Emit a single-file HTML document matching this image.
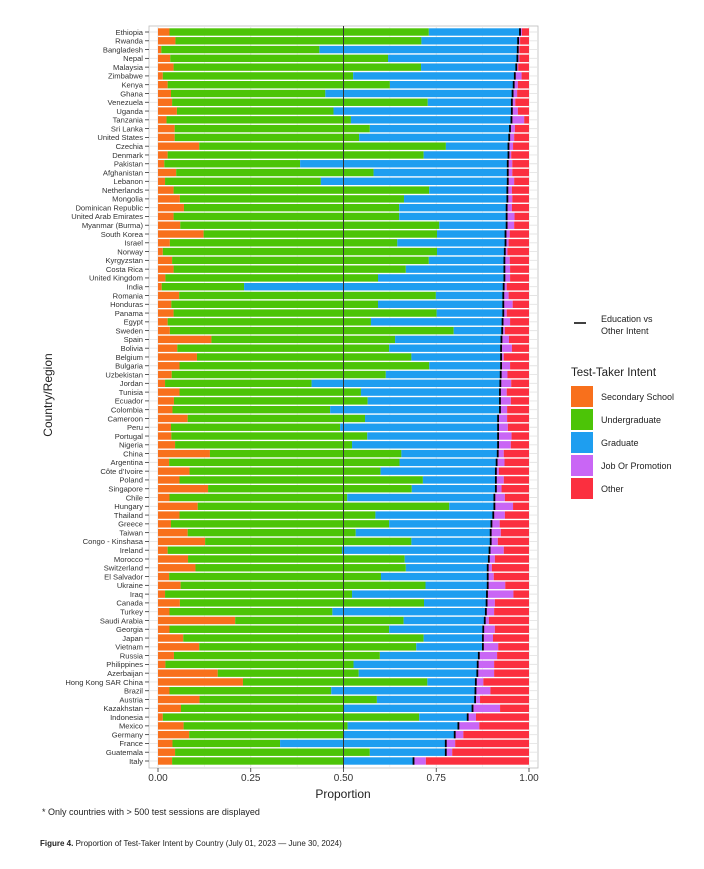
<!DOCTYPE html>
<html><head><meta charset="utf-8"><style>
body{margin:0;background:#fff;font-family:"Liberation Sans",sans-serif;}
svg text{font-family:"Liberation Sans",sans-serif;}
</style></head><body>
<svg id="chart" width="704" height="864" viewBox="0 0 704 864" xmlns="http://www.w3.org/2000/svg">
<rect x="0" y="0" width="704" height="864" fill="#fff"/>
<rect x="149" y="26" width="389" height="742" fill="#fff" stroke="#bdbdbd" stroke-width="0.8"/>
<g id="grid"></g><g id="bars"></g><g id="ylabels"></g><g id="xticks"></g>
<text x="343" y="798" font-size="12" text-anchor="middle" fill="#222">Proportion</text>
<text x="52" y="395" font-size="12" text-anchor="middle" fill="#222" transform="rotate(-90 52 395)">Country/Region</text>
<g>
<line x1="574" y1="323" x2="586" y2="323" stroke="#000" stroke-width="1.5"/>
<text x="601" y="322" font-size="9" fill="#222">Education vs</text>
<text x="601" y="334" font-size="9" fill="#222">Other Intent</text>
<text x="571" y="376" font-size="11.5" fill="#222">Test-Taker Intent</text>
<g id="legkeys"></g>
</g>
<text x="42" y="815" font-size="9" fill="#222">* Only countries with &gt; 500 test sessions are displayed</text>
<text x="40" y="846" font-size="8" fill="#222"><tspan font-weight="bold">Figure 4.</tspan>  Proportion of Test-Taker Intent by Country (July 01, 2023 — June 30, 2024)</text>
</svg>
<script>
const countries=["Ethiopia","Rwanda","Bangladesh","Nepal","Malaysia","Zimbabwe","Kenya","Ghana","Venezuela","Uganda","Tanzania","Sri Lanka","United States","Czechia","Denmark","Pakistan","Afghanistan","Lebanon","Netherlands","Mongolia","Dominican Republic","United Arab Emirates","Myanmar (Burma)","South Korea","Israel","Norway","Kyrgyzstan","Costa Rica","United Kingdom","India","Romania","Honduras","Panama","Egypt","Sweden","Spain","Bolivia","Belgium","Bulgaria","Uzbekistan","Jordan","Tunisia","Ecuador","Colombia","Cameroon","Peru","Portugal","Nigeria","China","Argentina","Côte d’Ivoire","Poland","Singapore","Chile","Hungary","Thailand","Greece","Taiwan","Congo - Kinshasa","Ireland","Morocco","Switzerland","El Salvador","Ukraine","Iraq","Canada","Turkey","Saudi Arabia","Georgia","Japan","Vietnam","Russia","Philippines","Azerbaijan","Hong Kong SAR China","Brazil","Austria","Kazakhstan","Indonesia","Mexico","Germany","France","Guatemala","Italy"];
const secondary=[3.1,4.7,0.9,3.3,4.2,1.3,2.6,3.5,3.8,5.1,2.3,4.5,4.5,11.1,2.6,1.7,4.9,1.9,4.2,5.9,7.0,4.2,6.0,12.3,3.2,1.3,3.8,4.2,2.0,1.0,5.7,3.6,4.2,2.6,3.2,14.4,5.2,10.5,5.8,3.7,1.9,5.8,4.3,3.9,8.0,3.5,3.6,4.6,14.0,3.0,8.5,5.8,13.5,3.1,10.7,5.8,3.5,8.0,12.7,2.6,8.1,10.1,3.0,6.1,1.9,5.9,3.1,20.8,3.1,6.8,11.1,4.3,2.0,16.1,22.9,3.1,11.2,6.2,1.3,6.9,8.4,3.9,4.6,3.8];
const undergraduate=[69.9,66.3,42.6,58.7,66.7,51.3,59.9,41.6,68.9,42.2,49.7,52.6,49.7,66.5,69.0,36.6,53.2,42.0,68.9,60.4,58.0,60.8,69.8,62.9,61.3,73.9,69.2,62.6,57.3,22.2,69.2,55.7,70.9,54.8,76.5,49.5,57.1,57.8,67.3,57.7,39.5,48.9,52.2,42.5,47.8,45.6,52.8,47.7,51.6,62.1,51.5,65.6,54.9,47.9,67.8,52.8,58.8,45.3,55.6,47.0,58.4,56.7,57.1,66.0,50.4,65.8,43.9,45.4,59.2,64.8,58.5,55.5,50.7,38.0,49.7,43.6,47.8,43.8,69.1,44.2,41.5,29.0,52.5,46.2];
const graduate=[24.6,26.1,53.5,34.9,25.7,43.6,33.4,50.5,22.7,48.1,43.3,37.8,40.5,16.9,22.9,56.0,36.2,50.4,21.1,27.9,29.0,29.0,18.2,18.5,29.2,18.3,20.4,26.6,34.1,70.0,18.2,33.8,18.0,35.5,13.1,28.7,30.2,24.2,19.4,31.0,50.9,37.5,35.7,45.8,35.9,42.6,35.3,39.4,26.0,26.2,31.1,19.7,22.7,39.7,12.2,31.8,27.6,36.4,21.4,39.8,22.7,22.1,28.8,16.8,36.4,16.9,41.4,21.9,25.4,16.0,18.0,26.7,33.5,32.0,13.1,38.9,26.5,34.8,13.1,29.9,30.1,44.7,20.5,18.9];
const jobPromotion=[0.5,0.5,0.4,0.5,0.5,1.8,1.1,1.2,0.9,1.6,3.4,1.3,1.3,1.2,0.7,1.2,1.2,1.7,1.2,1.3,1.4,2.1,2.0,1.1,0.8,0.7,1.4,1.5,1.5,0.8,1.4,2.5,0.9,2.0,0.7,2.0,2.9,0.7,2.4,1.8,2.9,1.8,2.9,1.9,2.4,2.6,3.6,3.4,1.6,2.1,0.8,2.1,1.5,2.8,5.0,3.1,2.2,2.7,1.9,3.8,1.6,1.1,1.6,4.7,7.1,2.2,2.2,1.1,3.1,2.7,4.1,4.9,4.4,4.5,2.0,4.0,1.3,7.4,2.2,5.6,2.3,2.5,1.7,3.3];
const other=[1.9,2.4,2.6,2.6,2.9,2.0,3.0,3.2,3.7,3.0,1.3,3.8,4.0,4.3,4.8,4.5,4.5,4.0,4.6,4.5,4.6,3.9,4.0,5.2,5.5,5.8,5.2,5.1,5.1,6.0,5.5,4.4,6.0,5.1,6.5,5.4,4.6,6.8,5.1,5.8,4.8,6.0,4.9,5.9,5.9,5.7,4.7,4.9,6.8,6.6,8.1,6.8,7.4,6.5,4.3,6.5,7.9,7.6,8.4,6.8,9.2,10.0,9.5,6.4,4.2,9.2,9.4,10.8,9.2,9.7,8.3,8.6,9.4,9.4,12.3,10.4,13.2,7.8,14.3,13.4,17.7,19.9,20.7,27.8];
const seriesNames=["Secondary School","Undergraduate","Graduate","Job Or Promotion","Other"];
const xTicks=[0,0.25,0.5,0.75,1];
const xTickLabels=["0.00","0.25","0.50","0.75","1.00"];

const NS="http://www.w3.org/2000/svg";
const colors=["#f8701c","#4cc407","#1e9ef0","#c966f5","#fb2f3f"];
const series=[secondary,undergraduate,graduate,jobPromotion,other];
const X0=158,X1=529,Y0=32,Y1=761;
function xs(v){return X0+(X1-X0)*v;}
function ys(i){return Y0+(Y1-Y0)*i/(countries.length-1);}
function mk(tag,attrs,parent){const e=document.createElementNS(NS,tag);for(const k in attrs)e.setAttribute(k,attrs[k]);parent.appendChild(e);return e;}
const grid=document.getElementById('grid'),bars=document.getElementById('bars'),yl=document.getElementById('ylabels'),xt=document.getElementById('xticks');
for(let t=0;t<=1.0001;t+=0.125){const l=mk('line',{x1:xs(t),x2:xs(t),y1:26,y2:768,stroke:'#e4e4e4','stroke-width':t*8%2?0.5:0.9},grid);

}
const bh=7.4;
countries.forEach((c,i)=>{
  const y=ys(i);
  const gl=mk('line',{x1:149,x2:538,y1:y,y2:y,stroke:'#e4e4e4','stroke-width':0.9},grid);
  
  
  const vals=series.map(s=>s[i]);const tot=vals.reduce((a,b)=>a+b,0);
  let cum=0;
  vals.forEach((v,k)=>{
    const a=xs(cum/tot),b=xs((cum+v)/tot);
    const r=mk('rect',{x:a,y:y-bh/2,width:Math.max(0,b-a),height:bh,fill:colors[k]},bars);
    
    
    cum+=v;
  });
  const ed=(vals[0]+vals[1]+vals[2])/tot;
  const m=mk('rect',{x:xs(ed)-1,y:y-bh/2,width:1.8,height:bh,fill:'#000'},bars);
  
  
  const t=mk('text',{x:143,y:y+2.8,'font-size':7.6,'text-anchor':'end',fill:'#333'},yl);
  t.textContent=c;
  
  
  mk('line',{x1:145,x2:149,y1:y,y2:y,stroke:'#333','stroke-width':0.8},yl);
});
const mid=mk('line',{x1:xs(0.5),x2:xs(0.5),y1:26,y2:768,stroke:'#333','stroke-width':1},bars);


xTicks.forEach((v,i)=>{
  mk('line',{x1:xs(v),x2:xs(v),y1:768,y2:772,stroke:'#333','stroke-width':0.8},xt);
  const t=mk('text',{x:xs(v),y:781,'font-size':10,'text-anchor':'middle',fill:'#333'},xt);
  t.textContent=xTickLabels[i];
  
  
});
const lk=document.getElementById('legkeys');
seriesNames.forEach((n,k)=>{
  const y=386+k*23;
  const r=mk('rect',{x:571,y:y,width:22,height:21,fill:colors[k]},lk);
  
  
  const t=mk('text',{x:601,y:y+14,'font-size':9,fill:'#222'},lk);
  t.textContent=n;
  
  
});
</script>
</body></html>
